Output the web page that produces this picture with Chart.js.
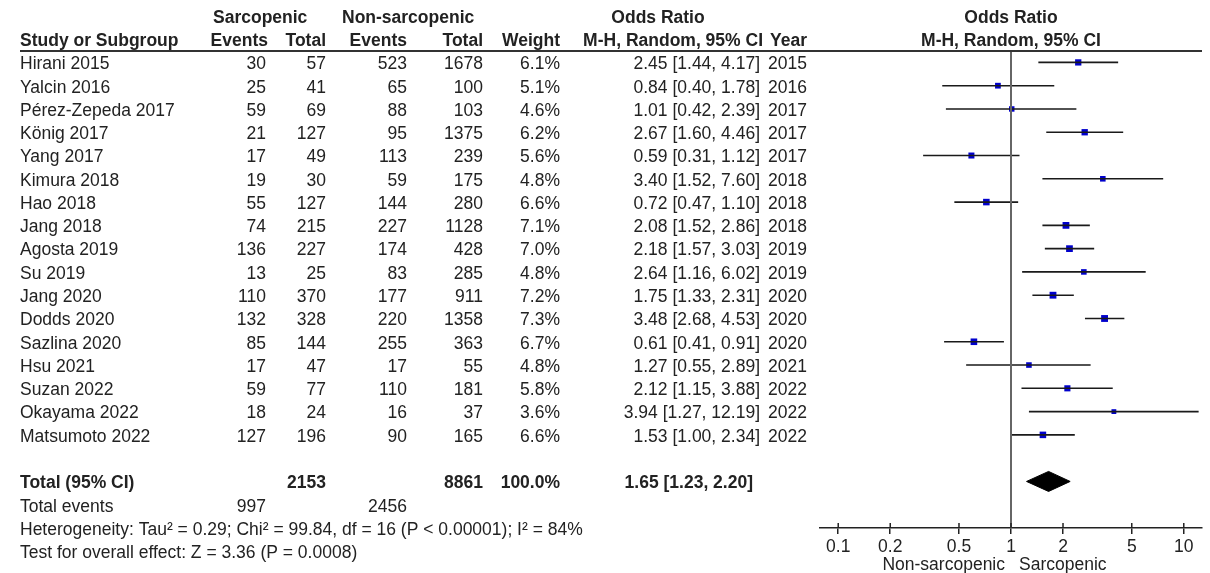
<!DOCTYPE html>
<html>
<head>
<meta charset="utf-8">
<script src="https://cdn.jsdelivr.net/npm/chart.js@4/dist/chart.umd.min.js"></script>
<style>
  body { margin: 0; background: #fff; }
  #wrap { width: 1210px; height: 573px; }
</style>
</head>
<body>
<div id="wrap"><canvas id="forest" width="1210" height="573"></canvas></div>
<script>
const studies = ["Hirani 2015", "Yalcin 2016", "Pérez-Zepeda 2017", "König 2017", "Yang 2017", "Kimura 2018", "Hao 2018", "Jang 2018", "Agosta 2019", "Su 2019", "Jang 2020", "Dodds 2020", "Sazlina 2020", "Hsu 2021", "Suzan 2022", "Okayama 2022", "Matsumoto 2022"];
const sarcEvents = [30, 25, 59, 21, 17, 19, 55, 74, 136, 13, 110, 132, 85, 17, 59, 18, 127];
const sarcTotal = [57, 41, 69, 127, 49, 30, 127, 215, 227, 25, 370, 328, 144, 47, 77, 24, 196];
const nonEvents = [523, 65, 88, 95, 113, 59, 144, 227, 174, 83, 177, 220, 255, 17, 110, 16, 90];
const nonTotal = [1678, 100, 103, 1375, 239, 175, 280, 1128, 428, 285, 911, 1358, 363, 55, 181, 37, 165];
const weights = [6.1, 5.1, 4.6, 6.2, 5.6, 4.8, 6.6, 7.1, 7.0, 4.8, 7.2, 7.3, 6.7, 4.8, 5.8, 3.6, 6.6];
const orEst = [2.45, 0.84, 1.01, 2.67, 0.59, 3.40, 0.72, 2.08, 2.18, 2.64, 1.75, 3.48, 0.61, 1.27, 2.12, 3.94, 1.53];
const orLo = [1.44, 0.40, 0.42, 1.60, 0.31, 1.52, 0.47, 1.52, 1.57, 1.16, 1.33, 2.68, 0.41, 0.55, 1.15, 1.27, 1.00];
const orHi = [4.17, 1.78, 2.39, 4.46, 1.12, 7.60, 1.10, 2.86, 3.03, 6.02, 2.31, 4.53, 0.91, 2.89, 3.88, 12.19, 2.34];
const years = [2015, 2016, 2017, 2017, 2017, 2018, 2018, 2018, 2019, 2019, 2020, 2020, 2020, 2021, 2022, 2022, 2022];

const pooled = [1.65, 1.23, 2.20]; // estimate, lower, upper
const totals = { sarcTotal: 2153, nonTotal: 8861, weight: "100.0%", sarcEvents: 997, nonEvents: 2456 };
const heterogeneity = "Heterogeneity: Tau² = 0.29; Chi² = 99.84, df = 16 (P < 0.00001); I² = 84%";
const overallTest = "Test for overall effect: Z = 3.36 (P = 0.0008)";
const xTicks = [0.1, 0.2, 0.5, 1, 2, 5, 10];
const favoursLeft = "Non-sarcopenic";
const favoursRight = "Sarcopenic";

const FONT = "'Liberation Sans', Arial, sans-serif";
const FSIZE = 17.5;
const TXT = "#222";
const totalRow = studies.length + 1;

// CI whiskers as one line dataset broken by nulls
const ciData = [];
studies.forEach((s, i) => {
  ciData.push({ x: orLo[i], y: i }, { x: orHi[i], y: i }, { x: orHi[i], y: null });
});
const pointData = orEst.map((v, i) => ({ x: v, y: i }));
const diamond = [
  { x: pooled[1], y: totalRow },
  { x: pooled[0], y: totalRow - 0.43 },
  { x: pooled[2], y: totalRow },
  { x: pooled[0], y: totalRow + 0.43 },
  { x: pooled[1], y: totalRow }
];

const fmt = (v) => v.toFixed(2);

const tablePlugin = {
  id: "tableText",
  afterDraw(chart) {
    const ctx = chart.ctx;
    const ys = chart.scales.y;
    const xs = chart.scales.x;
    const area = chart.chartArea;
    const rowY = (i) => ys.getPixelForValue(i) + 2;
    const text = (t, x, y, align, bold) => {
      ctx.font = (bold ? "bold " : "") + FSIZE + "px " + FONT;
      ctx.textAlign = align;
      ctx.fillText(String(t), x, y);
    };
    ctx.save();
    ctx.fillStyle = TXT;
    ctx.textBaseline = "middle";

    // headers
    text("Sarcopenic", 213, 18, "left", true);
    text("Non-sarcopenic", 342, 18, "left", true);
    text("Odds Ratio", 658, 18, "center", true);
    text("Study or Subgroup", 20, 41, "left", true);
    text("Events", 268, 41, "right", true);
    text("Total", 326, 41, "right", true);
    text("Events", 407, 41, "right", true);
    text("Total", 483, 41, "right", true);
    text("Weight", 560, 41, "right", true);
    text("M-H, Random, 95% CI", 763, 41, "right", true);
    text("Year", 807, 41, "right", true);
    const mid = (area.left + area.right) / 2;
    text("Odds Ratio", mid, 18, "center", true);
    text("M-H, Random, 95% CI", mid, 41, "center", true);

    // header rule
    ctx.strokeStyle = "#333";
    ctx.lineWidth = 2;
    ctx.beginPath();
    ctx.moveTo(20, area.top);
    ctx.lineTo(area.right, area.top);
    ctx.stroke();

    // study rows
    studies.forEach((s, i) => {
      const y = rowY(i);
      text(s, 20, y, "left");
      text(sarcEvents[i], 266, y, "right");
      text(sarcTotal[i], 326, y, "right");
      text(nonEvents[i], 407, y, "right");
      text(nonTotal[i], 483, y, "right");
      text(weights[i].toFixed(1) + "%", 560, y, "right");
      text(fmt(orEst[i]) + " [" + fmt(orLo[i]) + ", " + fmt(orHi[i]) + "]", 760, y, "right");
      text(years[i], 807, y, "right");
    });

    // totals
    let y = rowY(totalRow);
    text("Total (95% CI)", 20, y, "left", true);
    text(totals.sarcTotal, 326, y, "right", true);
    text(totals.nonTotal, 483, y, "right", true);
    text(totals.weight, 560, y, "right", true);
    text(fmt(pooled[0]) + " [" + fmt(pooled[1]) + ", " + fmt(pooled[2]) + "]", 753, y, "right", true);
    y = rowY(totalRow + 1);
    text("Total events", 20, y, "left");
    text(totals.sarcEvents, 266, y, "right");
    text(totals.nonEvents, 407, y, "right");
    text(heterogeneity, 20, rowY(totalRow + 2), "left");
    text(overallTest, 20, rowY(totalRow + 3), "left");

    // upper half of axis ticks
    ctx.strokeStyle = "#222";
    ctx.lineWidth = 1.5;
    xTicks.forEach((t) => {
      const px = xs.getPixelForValue(t);
      ctx.beginPath();
      ctx.moveTo(px, area.bottom - 5);
      ctx.lineTo(px, area.bottom);
      ctx.stroke();
    });

    // favours labels
    const one = xs.getPixelForValue(1);
    text(favoursLeft, one - 6, 565, "right");
    text(favoursRight, one + 8, 565, "left");
    ctx.restore();
  }
};

const ctx = document.getElementById("forest");
new Chart(ctx, {
  type: "scatter",
  data: {
    datasets: [
      {
        type: "line",
        data: [{ x: 1, y: -0.5 }, { x: 1, y: 20 }],
        borderColor: "#666",
        borderWidth: 2,
        pointRadius: 0
      },
      {
        type: "line",
        data: ciData,
        borderColor: "#1a1a1a",
        borderWidth: 1.6,
        pointRadius: 0,
        spanGaps: false
      },
      {
        data: pointData,
        backgroundColor: "#0000cc",
        borderWidth: 0,
        pointStyle: "rect",
        pointRadius: weights.map((w) => 1.8 * Math.sqrt(w))
      },
      {
        type: "line",
        data: diamond,
        borderColor: "#000",
        borderWidth: 1,
        backgroundColor: "#000",
        fill: "shape",
        pointRadius: 0
      }
    ]
  },
  options: {
    responsive: false,
    animation: false,
    devicePixelRatio: 1,
    layout: { padding: { left: 820, right: 8, top: 51, bottom: 0 } },
    plugins: { legend: { display: false }, tooltip: { enabled: false } },
    scales: {
      x: {
        type: "logarithmic",
        min: 1 / 12.75,
        max: 12.75,
        bounds: "data",
        afterBuildTicks: (scale) => {
          scale.ticks = xTicks.map((v) => ({ value: v }));
        },
        afterFit: (scale) => {
          scale.height = 45;
        },
        grid: { display: true, drawOnChartArea: false, drawTicks: true, tickLength: 6, color: "#222", lineWidth: 1.5 },
        border: { display: true, color: "#222", width: 1.5 },
        ticks: {
          color: TXT,
          font: { family: FONT, size: FSIZE },
          padding: 3,
          autoSkip: false,
          maxRotation: 0,
          callback: (v) => String(v)
        }
      },
      y: {
        display: false,
        reverse: true,
        min: -0.49,
        max: 20
      }
    }
  },
  plugins: [tablePlugin]
});
</script>
</body>
</html>
